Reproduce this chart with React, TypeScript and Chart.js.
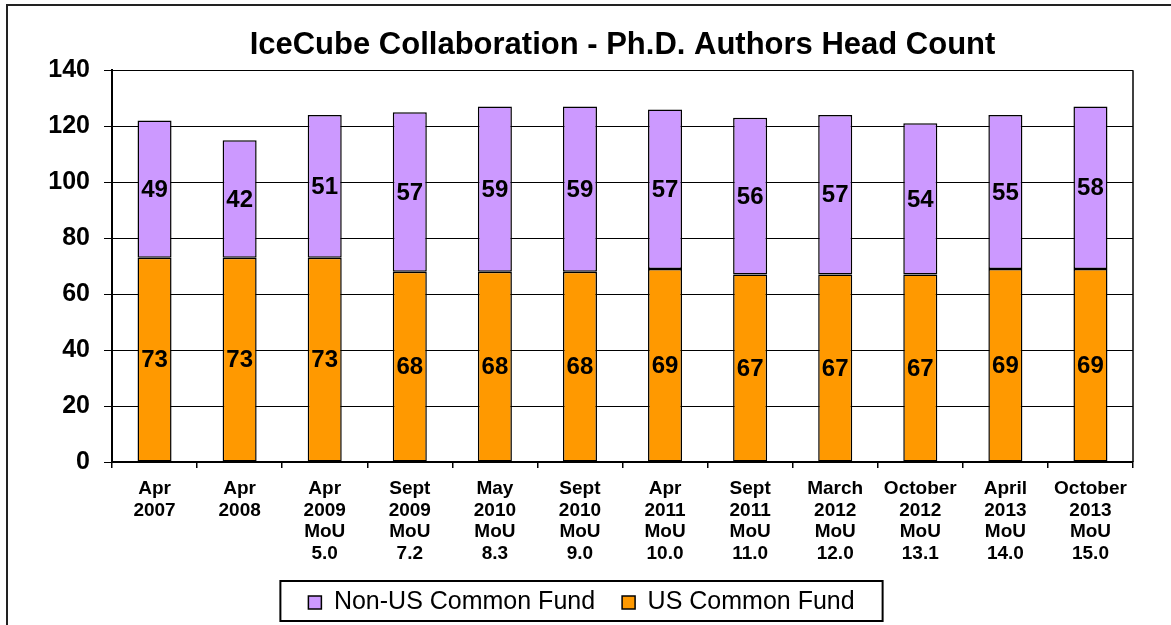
import React, { useEffect, useRef } from "react";
import { Chart, registerables } from "chart.js";

Chart.register(...registerables);

const categories: string[][] = [
  ["Apr", "2007"],
  ["Apr", "2008"],
  ["Apr", "2009", "MoU", "5.0"],
  ["Sept", "2009", "MoU", "7.2"],
  ["May", "2010", "MoU", "8.3"],
  ["Sept", "2010", "MoU", "9.0"],
  ["Apr", "2011", "MoU", "10.0"],
  ["Sept", "2011", "MoU", "11.0"],
  ["March", "2012", "MoU", "12.0"],
  ["October", "2012", "MoU", "13.1"],
  ["April", "2013", "MoU", "14.0"],
  ["October", "2013", "MoU", "15.0"],
];

const usCommonFund: number[] = [73, 73, 73, 68, 68, 68, 69, 67, 67, 67, 69, 69];
const nonUsCommonFund: number[] = [49, 42, 51, 57, 59, 59, 57, 56, 57, 54, 55, 58];

const yTicks = { min: 0, max: 140, step: 20 };

const FONT = '"Liberation Sans", Arial, sans-serif';

const segLabels = {
  id: "segLabels",
  afterDatasetsDraw(chart: any) {
    const ctx = chart.ctx;
    ctx.save();
    ctx.font = `bold 24px ${FONT}`;
    ctx.fillStyle = "#000";
    ctx.textAlign = "center";
    ctx.textBaseline = "middle";
    chart.data.datasets.forEach((ds: any, di: number) => {
      const meta = chart.getDatasetMeta(di);
      meta.data.forEach((el: any, i: number) => {
        const p = el.getProps(["x", "y", "base"], true);
        ctx.fillText(String(ds.data[i]), p.x, (p.y + p.base) / 2 + 1);
      });
    });
    ctx.restore();
  },
};

const centerTitle = {
  id: "centerTitle",
  afterLayout(chart: any) {
    const t = chart.titleBlock;
    const a = chart.chartArea;
    if (t && a) {
      t.left = a.left;
      t.right = a.right;
      t.width = a.right - a.left;
    }
  },
};

const frames = {
  id: "frames",
  afterDraw(chart: any) {
    const ctx = chart.ctx;
    const a = chart.chartArea;
    ctx.save();
    // plot area right border
    ctx.strokeStyle = "#000";
    ctx.lineWidth = 1.5;
    ctx.beginPath();
    ctx.moveTo(a.right, a.top);
    ctx.lineTo(a.right, a.bottom);
    ctx.stroke();
    // outer chart border
    ctx.strokeStyle = "#222";
    ctx.lineWidth = 2;
    ctx.strokeRect(7, 5, 1300, 800);
    // legend border
    const lg = chart.legend;
    if (lg && lg.legendHitBoxes && lg.legendHitBoxes.length) {
      const hb = lg.legendHitBoxes;
      let l = Infinity, r = -Infinity, t = Infinity, b = -Infinity;
      hb.forEach((h: any) => {
        l = Math.min(l, h.left);
        r = Math.max(r, h.left + h.width);
        t = Math.min(t, h.top);
        b = Math.max(b, h.top + h.height);
      });
      ctx.strokeStyle = "#000";
      ctx.lineWidth = 2;
      ctx.strokeRect(l - 28, t - 9, r - l + 56, b - t + 15);
    }
    ctx.restore();
  },
};

export default function App() {
  const ref = useRef<HTMLCanvasElement>(null);
  useEffect(() => {
    if (!ref.current) return;
    const chart = new Chart(ref.current, {
      type: "bar",
      data: {
        labels: categories,
        datasets: [
          {
            label: "US Common Fund",
            data: usCommonFund,
            backgroundColor: "#FF9900",
            borderColor: "#000",
            borderWidth: 1.5,
            borderSkipped: false,
          },
          {
            label: "Non-US Common Fund",
            data: nonUsCommonFund,
            backgroundColor: "#CC99FF",
            borderColor: "#000",
            borderWidth: 1.5,
            borderSkipped: false,
          },
        ],
      },
      options: {
        responsive: false,
        animation: false,
        layout: { padding: { left: 30, right: 38, top: 0, bottom: 0 } },
        datasets: { bar: { categoryPercentage: 0.8, barPercentage: 0.5 } },
        plugins: {
          title: {
            display: true,
            text: "IceCube Collaboration - Ph.D. Authors Head Count",
            color: "#000",
            font: { family: FONT, size: 31, weight: "bold" },
            padding: { top: 27, bottom: 6 },
          },
          legend: {
            position: "bottom",
            reverse: true,
            labels: {
              color: "#000",
              font: { family: FONT, size: 25 },
              boxWidth: 13,
              boxHeight: 13,
              padding: 27,
            },
          },
          tooltip: { enabled: false },
        },
        scales: {
          x: {
            stacked: true,
            afterFit: (s: any) => {
              s.height = 101;
            },
            grid: {
              offset: true,
              drawOnChartArea: false,
              drawTicks: true,
              tickLength: 6,
              color: "#000",
              lineWidth: 1.5,
            },
            border: { color: "#000", width: 2 },
            ticks: {
              color: "#000",
              font: { family: FONT, size: 19, weight: "bold", lineHeight: 1.14 },
              maxRotation: 0,
              autoSkip: false,
              padding: 10,
            },
          },
          y: {
            stacked: true,
            min: yTicks.min,
            max: yTicks.max,
            afterFit: (s: any) => {
              s.width = 82;
            },
            grid: {
              color: "#000",
              lineWidth: 1,
              tickLength: 8,
            },
            border: { color: "#000", width: 2 },
            ticks: {
              stepSize: yTicks.step,
              color: "#000",
              font: { family: FONT, size: 25, weight: "bold" },
              padding: 14,
            },
          },
        },
      },
      plugins: [centerTitle, segLabels, frames],
    } as any);
    return () => chart.destroy();
  }, []);
  return (
    <div style={{ position: "fixed", left: 0, top: 0, width: 1171, height: 625, background: "#fff" }}>
      <canvas ref={ref} width={1171} height={625} />
    </div>
  );
}
